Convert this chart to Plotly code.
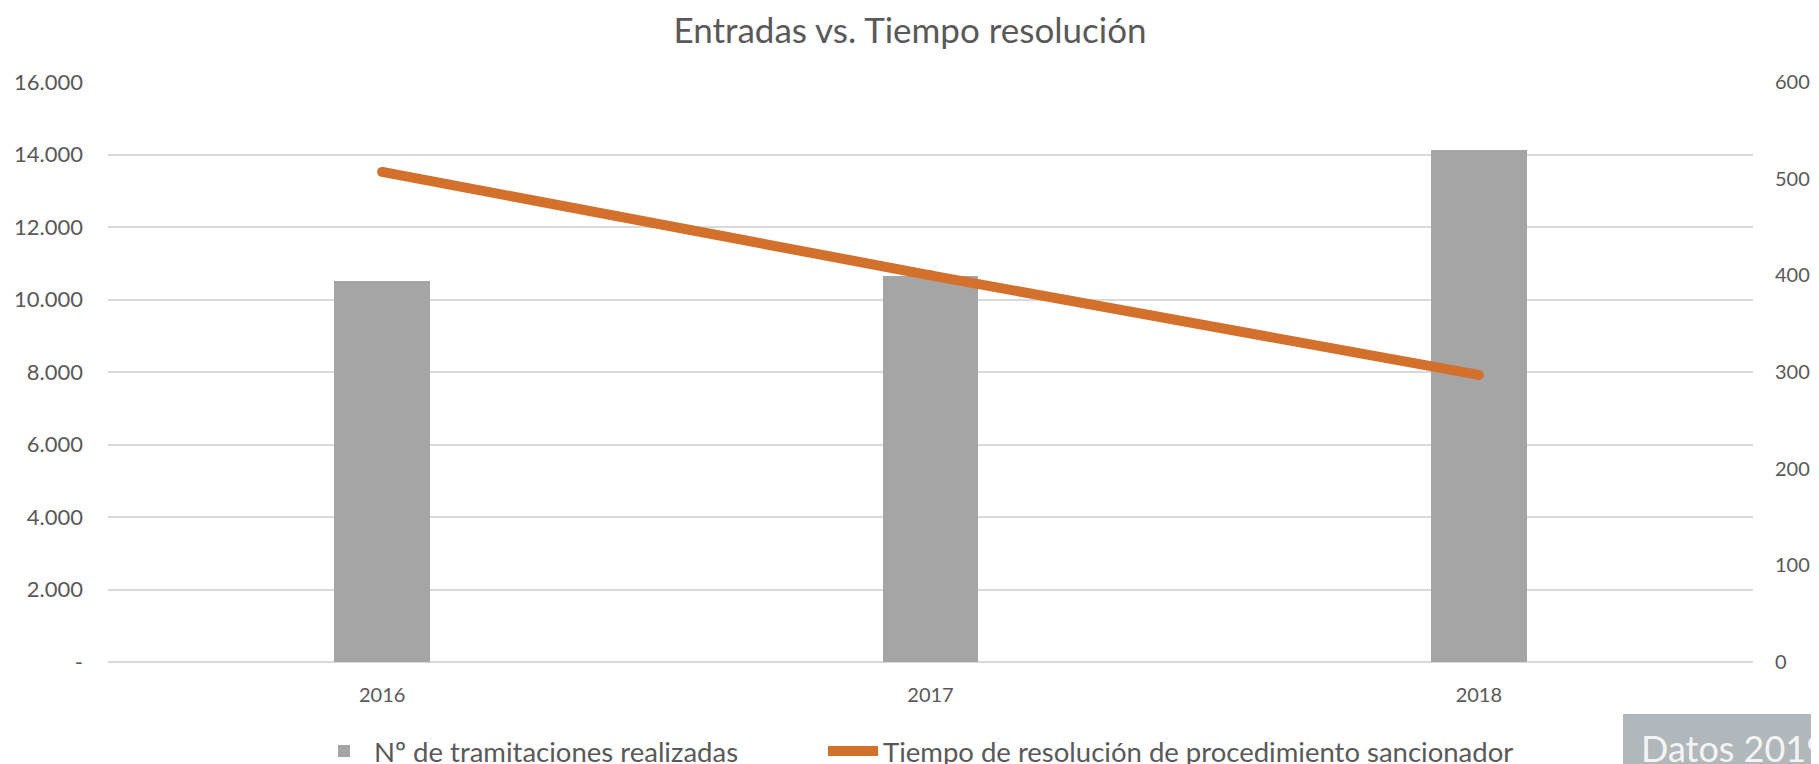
import plotly.graph_objects as go

years = ["2016", "2017", "2018"]
tramitaciones = [10500, 10640, 14130]
tiempo = [507, 400, 297]

left_tickvals = [0, 2000, 4000, 6000, 8000, 10000, 12000, 14000, 16000]
left_ticktext = ["-", "2.000", "4.000", "6.000", "8.000", "10.000", "12.000", "14.000", "16.000"]
right_tickvals = [0, 100, 200, 300, 400, 500, 600]

FONT = "Lato, 'Open Sans', sans-serif"
TXT = "#595959"
GRID = "#d9d9d9"

fig = go.Figure()
fig.add_trace(go.Bar(
    x=years, y=tramitaciones, name="Nº de tramitaciones realizadas",
    marker=dict(color="#a5a5a5", line=dict(width=0)), width=0.175, yaxis="y",
    legend="legend",
))
fig.add_trace(go.Scatter(
    x=years, y=tiempo, name="Tiempo de resolución de procedimiento sancionador",
    mode="lines+markers", line=dict(color="#d2702c", width=10),
    marker=dict(color="#d2702c", size=10, line=dict(width=0)), yaxis="y2",
    legend="legend2",
))

W, H = 1819, 764
OFF = 8  # the page body adds an 8px margin; target coordinates are screen pixels
# plot area in screen pixels: x 108..1753, y 82..662
L = 108 - OFF
T = 82 - OFF
R = W - (1753 - OFF)
B = H - (662 - OFF)
PW, PH = W - L - R, H - T - B


def px_x(x):
    return (x - OFF - L) / PW


def px_y(y):
    return (H - B - (y - OFF)) / PH


legend_common = dict(orientation="h", xanchor="left", yref="container",
                     y=(H - (751 - OFF)) / H, yanchor="middle", xref="container",
                     font=dict(size=27.5, color=TXT, family=FONT), itemwidth=50,
                     bgcolor="rgba(0,0,0,0)")

fig.update_layout(
    width=W, height=H,
    margin=dict(l=L, r=R, t=T, b=B, autoexpand=False),
    paper_bgcolor="white", plot_bgcolor="white",
    font=dict(family=FONT, color=TXT, size=20),
    title=dict(text="Entradas vs. Tiempo resolución", x=(910 - OFF) / W, xanchor="center",
               y=1 - (31 - OFF) / H, yanchor="middle", xref="container",
               font=dict(size=35, color=TXT, family=FONT)),
    xaxis=dict(type="category", showgrid=False, showline=False, zeroline=False,
               ticks="", tickfont=dict(size=20, color=TXT), ticklabelstandoff=19,
               automargin=False),
    yaxis=dict(range=[0, 16000], tickvals=left_tickvals, ticktext=left_ticktext,
               showgrid=True, gridcolor=GRID, gridwidth=1.5, zeroline=True,
               zerolinecolor=GRID, zerolinewidth=1.5, showline=False,
               tickfont=dict(size=22, color=TXT), ticks="", ticklabelstandoff=24,
               automargin=False),
    yaxis2=dict(range=[0, 600], tickvals=right_tickvals, overlaying="y", side="right",
                showgrid=False, zeroline=False, showline=False,
                tickfont=dict(size=20, color=TXT), ticks="", ticklabelstandoff=21,
                automargin=False),
    showlegend=True,
    legend=dict(x=(314 - OFF) / W, **legend_common),
    legend2=dict(x=(823 - OFF) / W, **legend_common),
    bargap=0,
)

# "Datos 2019" tag at bottom right (cut off by the right edge, as in the original)
fig.add_shape(type="rect", xref="paper", yref="paper",
              x0=px_x(1623), x1=px_x(1840), y0=px_y(714), y1=px_y(790),
              fillcolor="#b1b8bb", line=dict(width=0), layer="above")
fig.add_annotation(text="Datos 2019", xref="paper", yref="paper",
                   x=px_x(1639), xanchor="left", y=px_y(748), yanchor="middle",
                   showarrow=False, font=dict(size=36, color="#f4f4f4", family=FONT))

fig.write_html("out.html")
